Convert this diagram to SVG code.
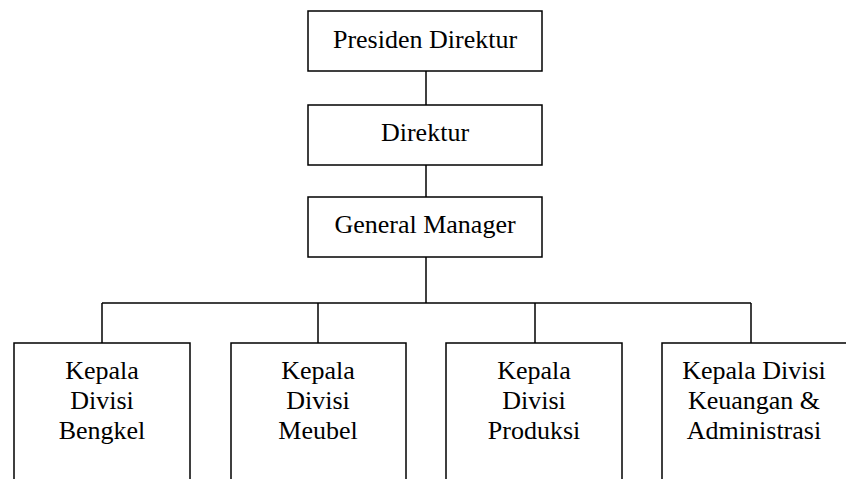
<svg xmlns="http://www.w3.org/2000/svg" width="846" height="479" viewBox="0 0 846 479">
<style>
rect{fill:#fff;stroke:#000;stroke-width:1.5}
line{stroke:#000;stroke-width:1.5}
text{font-family:"Liberation Serif","Times New Roman",serif;font-size:26px;fill:#000;text-anchor:middle}
</style>
<rect x="0" y="0" width="846" height="479" style="stroke:none"/>
<g id="connectors">
<line x1="426" y1="71" x2="426" y2="105"/>
<line x1="426" y1="165" x2="426" y2="197"/>
<line x1="426" y1="257" x2="426" y2="303"/>
<line x1="102" y1="303" x2="751" y2="303"/>
<line x1="102" y1="303" x2="102" y2="343"/>
<line x1="318" y1="303" x2="318" y2="343"/>
<line x1="535" y1="303" x2="535" y2="343"/>
<line x1="751" y1="303" x2="751" y2="343"/>
</g>
<g id="presiden"><rect x="308" y="11" width="234" height="60"/><text x="425" y="48">Presiden Direktur</text></g>
<g id="direktur"><rect x="308" y="105" width="234" height="60"/><text x="425" y="141">Direktur</text></g>
<g id="gm"><rect x="308" y="197" width="234" height="60"/><text x="425" y="233">General Manager</text></g>
<g id="bengkel"><rect x="14" y="343" width="176" height="150"/><text x="102" y="379">Kepala</text><text x="102" y="409">Divisi</text><text x="102" y="439">Bengkel</text></g>
<g id="meubel"><rect x="231" y="343" width="175" height="150"/><text x="318" y="379">Kepala</text><text x="318" y="409">Divisi</text><text x="318" y="439">Meubel</text></g>
<g id="produksi"><rect x="446" y="343" width="176" height="150"/><text x="534" y="379">Kepala</text><text x="534" y="409">Divisi</text><text x="534" y="439">Produksi</text></g>
<g id="keuangan"><rect x="662" y="343" width="190" height="150"/><text x="754" y="379">Kepala Divisi</text><text x="754" y="409">Keuangan &amp;</text><text x="754" y="439">Administrasi</text></g>
</svg>
